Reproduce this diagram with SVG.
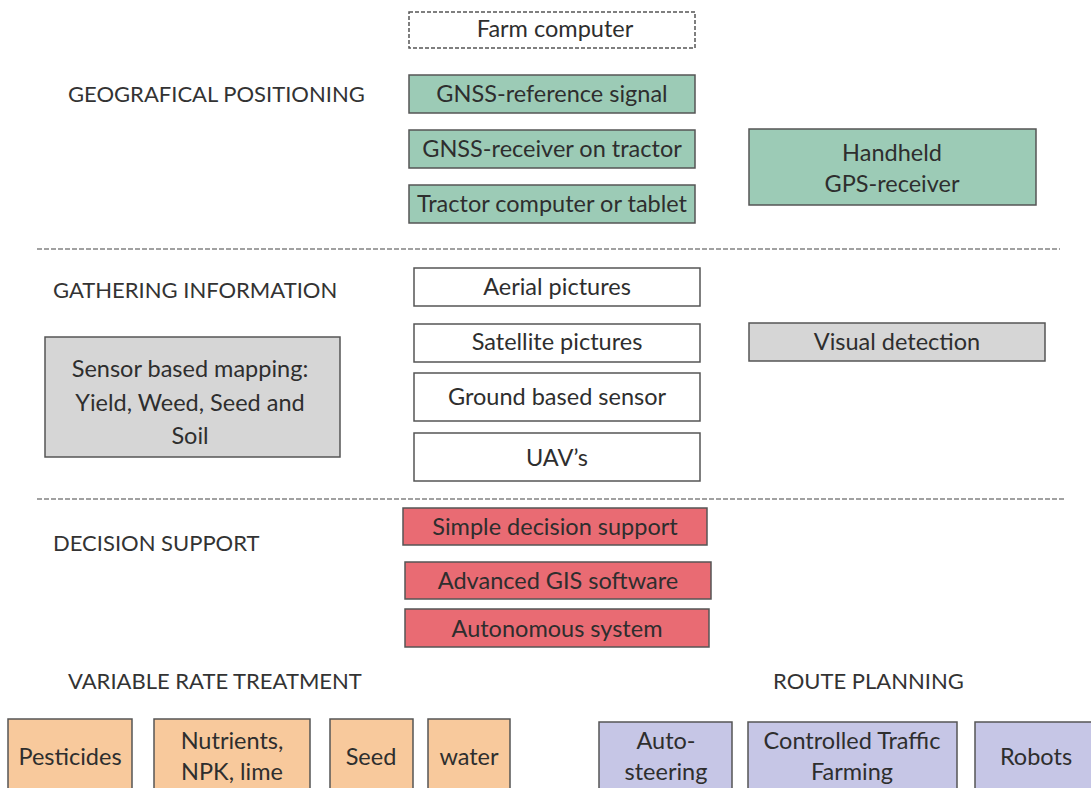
<svg xmlns="http://www.w3.org/2000/svg" width="1091" height="788" viewBox="0 0 1091 788">
<style>
text{font-family:Lato,"Open Sans","Liberation Sans",sans-serif;font-size:23.5px;fill:#2e2e2e}
.c{text-anchor:middle}
.h{font-size:22px;fill:#333}
.n rect{stroke:#555;stroke-width:1.5}
.g{fill:#9ccbb6}
.w{fill:#fff}
.gr{fill:#d6d6d6}
.r{fill:#e96b73}
.o{fill:#f8c99c}
.p{fill:#c6c6e6}
.sep{stroke:#444;stroke-width:1.2;stroke-dasharray:5 2;fill:none}
</style>
<rect width="1091" height="788" fill="#fff"/>
<g id="labels">
<text class="h" x="68" y="102">GEOGRAFICAL POSITIONING</text>
<text class="h" x="53" y="298">GATHERING INFORMATION</text>
<text class="h" x="53" y="551">DECISION SUPPORT</text>
<text class="h" x="68" y="689">VARIABLE RATE TREATMENT</text>
<text class="h" x="773" y="689">ROUTE PLANNING</text>
</g>
<g id="separators">
<line class="sep" x1="37" y1="249" x2="1060" y2="249"/>
<line class="sep" x1="37" y1="499" x2="1065" y2="499"/>
</g>
<g id="farm-computer" class="n"><rect x="409" y="12" width="286" height="36" fill="#fff" stroke-dasharray="4 2"/><text class="c" x="555" y="37">Farm computer</text></g>
<g id="gnss-ref" class="n"><rect class="g" x="409" y="75" width="286" height="38"/><text class="c" x="552" y="102">GNSS-reference signal</text></g>
<g id="gnss-rec" class="n"><rect class="g" x="409" y="130" width="286" height="38"/><text class="c" x="552" y="157">GNSS-receiver on tractor</text></g>
<g id="tractor-comp" class="n"><rect class="g" x="409" y="185" width="286" height="38"/><text class="c" x="552" y="212">Tractor computer or tablet</text></g>
<g id="handheld" class="n"><rect class="g" x="749" y="129" width="287" height="76"/><text class="c" x="892" y="161">Handheld</text><text class="c" x="892" y="192">GPS-receiver</text></g>
<g id="aerial" class="n"><rect class="w" x="414" y="268" width="286" height="38"/><text class="c" x="557" y="295">Aerial pictures</text></g>
<g id="satellite" class="n"><rect class="w" x="414" y="324" width="286" height="38"/><text class="c" x="557" y="350">Satellite pictures</text></g>
<g id="ground" class="n"><rect class="w" x="414" y="373" width="286" height="48"/><text class="c" x="557" y="405">Ground based sensor</text></g>
<g id="uav" class="n"><rect class="w" x="414" y="433" width="286" height="48"/><text class="c" x="557" y="466">UAV’s</text></g>
<g id="sensor-mapping" class="n"><rect class="gr" x="45" y="337" width="295" height="120"/><text class="c" x="190" y="377">Sensor based mapping:</text><text class="c" x="190" y="411">Yield, Weed, Seed and</text><text class="c" x="190" y="444">Soil</text></g>
<g id="visual" class="n"><rect class="gr" x="749" y="323" width="296" height="38"/><text class="c" x="897" y="350">Visual detection</text></g>
<g id="simple" class="n"><rect class="r" x="403" y="508" width="304" height="37"/><text class="c" x="555" y="535">Simple decision support</text></g>
<g id="gis" class="n"><rect class="r" x="405" y="562" width="306" height="37"/><text class="c" x="558" y="589">Advanced GIS software</text></g>
<g id="autonomous" class="n"><rect class="r" x="405" y="609" width="304" height="38"/><text class="c" x="557" y="637">Autonomous system</text></g>
<g id="pesticides" class="n"><rect class="o" x="8" y="719" width="124" height="80"/><text class="c" x="70" y="765">Pesticides</text></g>
<g id="nutrients" class="n"><rect class="o" x="154" y="719" width="156" height="80"/><text class="c" x="232" y="749">Nutrients,</text><text class="c" x="232" y="780">NPK, lime</text></g>
<g id="seed" class="n"><rect class="o" x="330" y="719" width="83" height="80"/><text class="c" x="371" y="765">Seed</text></g>
<g id="water" class="n"><rect class="o" x="428" y="719" width="82" height="80"/><text class="c" x="469" y="765">water</text></g>
<g id="auto-steering" class="n"><rect class="p" x="599" y="722" width="133" height="80"/><text class="c" x="666" y="749">Auto-</text><text class="c" x="666" y="780">steering</text></g>
<g id="ctf" class="n"><rect class="p" x="748" y="722" width="209" height="80"/><text class="c" x="852" y="749">Controlled Traffic</text><text class="c" x="852" y="780">Farming</text></g>
<g id="robots" class="n"><rect class="p" x="975" y="722" width="130" height="80"/><text class="c" x="1036" y="765">Robots</text></g>
</svg>
